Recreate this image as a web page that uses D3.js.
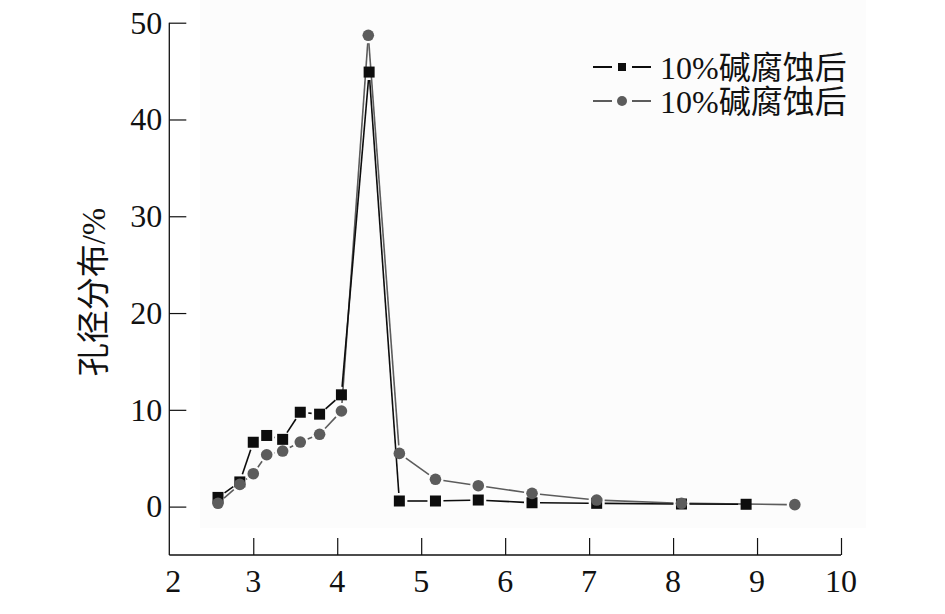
<!DOCTYPE html>
<html>
<head>
<meta charset="utf-8">
<script src="https://cdn.jsdelivr.net/npm/d3@7"></script>
<style>
  html, body { margin: 0; padding: 0; background: #fff; }
  svg { display: block; }
  .num { font-family: "Liberation Serif", "DejaVu Serif", serif; }
  .cjk { font-family: "Noto Sans CJK SC", sans-serif; }
</style>
</head>
<body>
<svg id="chart" width="945" height="614"></svg>
<script>
// ---- data ----
const seriesNames = ["10%碱腐蚀后", "10%碱腐蚀后"];
const squareX = [2.58, 2.84, 3.00, 3.16, 3.35, 3.56, 3.79, 4.05, 4.38, 4.74, 5.17, 5.68, 6.32, 7.09, 8.10, 8.87];
const squareY = [0.95, 2.55, 6.65, 7.35, 6.95, 9.75, 9.55, 11.55, 44.9, 0.58, 0.58, 0.68, 0.40, 0.34, 0.27, 0.24];
const circleX = [2.58, 2.84, 3.00, 3.16, 3.35, 3.56, 3.79, 4.05, 4.37, 4.74, 5.17, 5.68, 6.32, 7.09, 8.10, 9.45];
const circleY = [0.34, 2.30, 3.40, 5.36, 5.74, 6.67, 7.47, 9.88, 48.7, 5.50, 2.82, 2.16, 1.37, 0.68, 0.34, 0.20];
const xTicks = [3, 4, 5, 6, 7, 8, 9, 10];
const xTickLabels = [2, 3, 4, 5, 6, 7, 8, 9, 10];
const yTicks = [0, 10, 20, 30, 40, 50];
const yTitle = "孔径分布/%";

(function () {
const svg = d3.select("#chart");
const pLeft = 169.3, pRight = 841, pTop = 22.7, pBottom = 555;
const x = d3.scaleLinear().domain([2, 10]).range([pLeft, pRight]);
const y = d3.scaleLinear().domain([-5, 50]).range([pBottom, pTop]);

// split a string into runs of latin / CJK so each gets a suitable font
function mixedText(sel, str) {
  const runs = str.match(/[\u0000-\u024F]+|[^\u0000-\u024F]+/g) || [];
  runs.forEach(r => {
    sel.append("tspan").attr("class", /[\u0000-\u024F]/.test(r) ? "num" : "cjk").text(r);
  });
}

// faint plot background like the scan
svg.append("rect").attr("x", 200).attr("y", 0).attr("width", 666).attr("height", 528)
  .attr("fill", "#fcfcfc");

// axes: lines
svg.append("line").attr("x1", pLeft).attr("x2", pLeft).attr("y1", pTop).attr("y2", pBottom)
  .attr("stroke", "#111").attr("stroke-width", 1.3);
svg.append("line").attr("x1", pLeft).attr("x2", pRight).attr("y1", pBottom).attr("y2", pBottom)
  .attr("stroke", "#111").attr("stroke-width", 1.3);

// y axis ticks (inward) and labels
const yAxis = d3.axisRight(y).tickValues(yTicks).tickSize(17).tickFormat("");
const gy = svg.append("g").attr("transform", `translate(${pLeft},0)`).call(yAxis);
gy.select(".domain").remove();
gy.selectAll(".tick line").attr("stroke", "#111").attr("stroke-width", 1.2);
svg.append("g").selectAll("text").data(yTicks).join("text")
  .attr("class", "num")
  .attr("x", pLeft - 7).attr("y", d => y(d))
  .attr("dy", "0.34em")
  .attr("text-anchor", "end")
  .attr("font-size", 32).attr("fill", "#111")
  .text(d => d);

// x axis ticks (inward) and labels
const xAxis = d3.axisTop(x).tickValues(xTicks).tickSize(17).tickFormat("");
const gx = svg.append("g").attr("transform", `translate(0,${pBottom})`).call(xAxis);
gx.select(".domain").remove();
gx.selectAll(".tick line").attr("stroke", "#111").attr("stroke-width", 1.2);
svg.append("g").selectAll("text").data(xTickLabels).join("text")
  .attr("class", "num")
  .attr("x", d => x(d) + (d === 2 ? 4 : 0)).attr("y", 592)
  .attr("text-anchor", "middle")
  .attr("font-size", 32).attr("fill", "#111")
  .text(d => d);

// y title
const yt = svg.append("text")
  .attr("transform", "translate(105,292) rotate(-90)")
  .attr("text-anchor", "middle")
  .attr("font-size", 33).attr("fill", "#111");
mixedText(yt, yTitle);

function gappedSegments(xs, ys, gap) {
  const segs = [];
  for (let i = 0; i < xs.length - 1; i++) {
    const x1 = x(xs[i]), y1 = y(ys[i]), x2 = x(xs[i + 1]), y2 = y(ys[i + 1]);
    const dx = x2 - x1, dy = y2 - y1, len = Math.hypot(dx, dy);
    if (len <= 2 * gap) continue;
    const ux = dx / len, uy = dy / len;
    segs.push([x1 + ux * gap, y1 + uy * gap, x2 - ux * gap, y2 - uy * gap]);
  }
  return segs;
}

const circleColor = "#5c5c5c";
const squareColor = "#0d0d0d";

svg.append("g").selectAll("line").data(gappedSegments(circleX, circleY, 8)).join("line")
  .attr("x1", d => d[0]).attr("y1", d => d[1]).attr("x2", d => d[2]).attr("y2", d => d[3])
  .attr("stroke", circleColor).attr("stroke-width", 1.6);
svg.append("g").selectAll("line").data(gappedSegments(squareX, squareY, 8)).join("line")
  .attr("x1", d => d[0]).attr("y1", d => d[1]).attr("x2", d => d[2]).attr("y2", d => d[3])
  .attr("stroke", squareColor).attr("stroke-width", 1.6);

const sq = 11;
svg.append("g").selectAll("rect").data(squareX.map((d, i) => [d, squareY[i]])).join("rect")
  .attr("x", d => x(d[0]) - sq / 2).attr("y", d => y(d[1]) - sq / 2)
  .attr("width", sq).attr("height", sq).attr("fill", squareColor);
svg.append("g").selectAll("circle").data(circleX.map((d, i) => [d, circleY[i]])).join("circle")
  .attr("cx", d => x(d[0])).attr("cy", d => y(d[1])).attr("r", 5.8).attr("fill", circleColor);

// legend
const legend = svg.append("g");
const rows = [
  { name: seriesNames[0], color: squareColor, shape: "square", cy: 67 },
  { name: seriesNames[1], color: circleColor, shape: "circle", cy: 101 }
];
rows.forEach(r => {
  legend.append("line").attr("x1", 593).attr("x2", 612).attr("y1", r.cy).attr("y2", r.cy)
    .attr("stroke", r.color).attr("stroke-width", 2);
  legend.append("line").attr("x1", 632).attr("x2", 651).attr("y1", r.cy).attr("y2", r.cy)
    .attr("stroke", r.color).attr("stroke-width", 2);
  if (r.shape === "square") {
    legend.append("rect").attr("x", 618).attr("y", r.cy - 4).attr("width", 8).attr("height", 8)
      .attr("fill", r.color);
  } else {
    legend.append("circle").attr("cx", 622).attr("cy", r.cy).attr("r", 5).attr("fill", r.color);
  }
  const t = legend.append("text").attr("x", 660).attr("y", r.cy).attr("dy", "0.36em")
    .attr("font-size", 32).attr("fill", "#111");
  mixedText(t, r.name);
});
})();
</script>
</body>
</html>
